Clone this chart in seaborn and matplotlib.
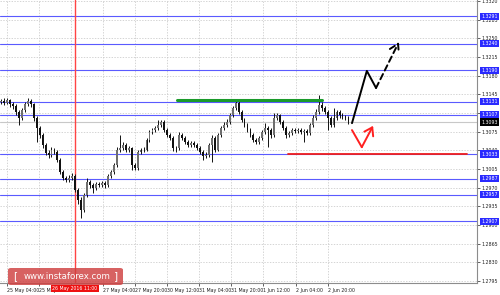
import numpy as np
import pandas as pd
import matplotlib
matplotlib.use("Agg")
import matplotlib.pyplot as plt
import matplotlib.transforms as mtransforms
from matplotlib.patches import FancyBboxPatch
import seaborn as sns

# ---------------- data ----------------
closes = [1.3133, 1.3129, 1.3134, 1.3127, 1.3123, 1.3112, 1.3101, 1.3116, 1.3127, 1.3133,
          1.3127, 1.3101, 1.3082, 1.3069, 1.3050, 1.3035, 1.3031, 1.3041, 1.3037, 1.3022,
          1.2999, 1.2988, 1.2984, 1.2988, 1.2992, 1.2966, 1.2947, 1.2928, 1.2956, 1.2981,
          1.2975, 1.2969, 1.2977, 1.2975, 1.2979, 1.2975, 1.2992, 1.2999, 1.3012, 1.3041,
          1.3044, 1.3050, 1.3041, 1.3044, 1.3012, 1.3007, 1.3037, 1.3041, 1.3041, 1.3059,
          1.3074, 1.3078, 1.3082, 1.3088, 1.3093, 1.3078, 1.3069, 1.3063, 1.3044, 1.3044,
          1.3069, 1.3063, 1.3056, 1.3050, 1.3054, 1.3050, 1.3044, 1.3037, 1.3029, 1.3031,
          1.3050, 1.3063, 1.3041, 1.3069, 1.3082, 1.3088, 1.3093, 1.3106, 1.3119, 1.3129,
          1.3112, 1.3097, 1.3088, 1.3078, 1.3069, 1.3059, 1.3056, 1.3063, 1.3074, 1.3082,
          1.3078, 1.3069, 1.3101, 1.3106, 1.3093, 1.3082, 1.3069, 1.3073, 1.3078, 1.3076,
          1.3078, 1.3074, 1.3076, 1.3073, 1.3088, 1.3101, 1.3112, 1.3125, 1.3119, 1.3112,
          1.3101, 1.3088, 1.3101, 1.3112, 1.3106, 1.3103, 1.3101, 1.3095]
highs = [1.3137, 1.3138, 1.3139, 1.3137, 1.3131, 1.3126, 1.3115, 1.3119, 1.3131, 1.3139,
         1.3137, 1.3129, 1.3104, 1.3086, 1.3072, 1.3053, 1.3040, 1.3046, 1.3045, 1.3040,
         1.3025, 1.3003, 1.2992, 1.2993, 1.2997, 1.2995, 1.2970, 1.2952, 1.2960, 1.2988,
         1.2985, 1.2979, 1.2981, 1.2981, 1.2983, 1.2983, 1.2996, 1.3003, 1.3016, 1.3046,
         1.3069, 1.3056, 1.3054, 1.3049, 1.3047, 1.3016, 1.3040, 1.3045, 1.3046, 1.3063,
         1.3078, 1.3082, 1.3086, 1.3097, 1.3097, 1.3096, 1.3082, 1.3073, 1.3066, 1.3049,
         1.3074, 1.3073, 1.3066, 1.3060, 1.3058, 1.3058, 1.3053, 1.3048, 1.3041, 1.3036,
         1.3054, 1.3068, 1.3066, 1.3073, 1.3086, 1.3093, 1.3098, 1.3110, 1.3124, 1.3133,
         1.3133, 1.3116, 1.3101, 1.3092, 1.3082, 1.3073, 1.3063, 1.3067, 1.3078, 1.3091,
         1.3086, 1.3082, 1.3110, 1.3110, 1.3109, 1.3097, 1.3085, 1.3077, 1.3082, 1.3081,
         1.3082, 1.3081, 1.3080, 1.3080, 1.3092, 1.3106, 1.3117, 1.3144, 1.3130, 1.3123,
         1.3116, 1.3104, 1.3119, 1.3116, 1.3116, 1.3110, 1.3107, 1.3104]
lows = [1.3127, 1.3125, 1.3126, 1.3122, 1.3118, 1.3107, 1.3088, 1.3097, 1.3112, 1.3123,
        1.3121, 1.3095, 1.3056, 1.3063, 1.3045, 1.3031, 1.3026, 1.3028, 1.3033, 1.3018,
        1.2995, 1.2984, 1.2980, 1.2980, 1.2985, 1.2962, 1.2940, 1.2913, 1.2924, 1.2952,
        1.2970, 1.2960, 1.2965, 1.2971, 1.2971, 1.2970, 1.2972, 1.2988, 1.2996, 1.3008,
        1.3037, 1.3040, 1.3037, 1.3036, 1.3003, 1.3003, 1.3004, 1.3033, 1.3036, 1.3038,
        1.3055, 1.3070, 1.3074, 1.3078, 1.3084, 1.3074, 1.3065, 1.3059, 1.3039, 1.3037,
        1.3041, 1.3059, 1.3052, 1.3046, 1.3046, 1.3046, 1.3040, 1.3033, 1.3022, 1.3025,
        1.3027, 1.3018, 1.3037, 1.3038, 1.3065, 1.3078, 1.3084, 1.3090, 1.3102, 1.3115,
        1.3108, 1.3093, 1.3084, 1.3074, 1.3065, 1.3055, 1.3052, 1.3052, 1.3059, 1.3070,
        1.3046, 1.3063, 1.3065, 1.3097, 1.3089, 1.3078, 1.3063, 1.3065, 1.3069, 1.3072,
        1.3072, 1.3070, 1.3056, 1.3068, 1.3069, 1.3084, 1.3097, 1.3108, 1.3114, 1.3108,
        1.3078, 1.3084, 1.3084, 1.3097, 1.3101, 1.3099, 1.3097, 1.3090]
first_open = 1.3131
opens = [first_open] + closes[:-1]

price_ticks = [1.3320, 1.3285, 1.3250, 1.3215, 1.3180, 1.3145, 1.3110, 1.3075,
               1.3040, 1.3005, 1.2970, 1.2935, 1.2900, 1.2865, 1.2830, 1.2795]
blue_levels = [1.3291, 1.3240, 1.3190, 1.3131, 1.3107, 1.3033, 1.2987, 1.2957, 1.2907]
current_price = 1.3093

time_tick_bars = [2.0, 12.8, 23.6, 34.4, 45.2, 56.0, 66.8, 77.6, 88.4, 99.2, 110.0]
# the third label (26 May 12:00) is covered by the crosshair time box in the reference
time_tick_labels = ["25 May 04:00", "25 May 20:00", "", "27 May 04:00",
                    "27 May 20:00", "30 May 12:00", "31 May 04:00", "31 May 20:00",
                    "1 Jun 12:00", "2 Jun 04:00", "2 Jun 20:00"]
crosshair_bar = 24.9
crosshair_label = "26 May 2016 11:00"

resistance_price = 1.3134
resistance_bars = [59.3, 108.1]
support_price = 1.3033
support_bars = [96.6, 157.0]

fc_black_solid_x = [118.2, 123.2, 126.3]
fc_black_solid_y = [1.3091, 1.3189, 1.3157]
fc_black_dash_x = [126.3, 134.0]
fc_black_dash_y = [1.3157, 1.3243]
fc_red_x = [118.2, 121.5, 125.3]
fc_red_y = [1.3078, 1.3046, 1.3086]

# ---------------- figure ----------------
sns.set_theme(style="white")
plt.rcParams['font.family'] = ['DejaVu Sans']

W, H = 500, 295
fig = plt.figure(figsize=(W / 100, H / 100), dpi=100)
fig.patch.set_facecolor('white')
ax_right_px, ax_bottom_px = 477, 283
ax = fig.add_axes([0, 1 - ax_bottom_px / H, ax_right_px / W, ax_bottom_px / H])
ax.set_facecolor('white')

ax.set_xlim(-0.337, 160.3)
ax.set_ylim(1.27913, 1.33219)

# grid
ax.set_yticks(price_ticks)
ax.set_xticks(time_tick_bars)
ax.grid(True, color='#c4c4c4', linestyle=(0, (2, 2)), linewidth=0.5)
ax.set_axisbelow(True)

# current price line
ax.axhline(current_price, color='#c8c8c8', lw=0.8, zorder=1)

# blue levels
for lv in blue_levels:
    ax.axhline(lv, color='#5a5aff', lw=0.8, zorder=2)

# crosshair vertical
ax.axvline(crosshair_bar, color='#ff4444', lw=1.0, zorder=2.5)

# candles
df = pd.DataFrame({'open': opens, 'high': highs, 'low': lows, 'close': closes})
df['bar'] = np.arange(len(df))
ax.vlines(df['bar'], df['low'], df['high'], color='#111111', lw=0.7, zorder=3)
body_bottom = df[['open', 'close']].min(axis=1)
body_h = (df['close'] - df['open']).abs().clip(lower=0.00006)
colors = np.where(df['close'] >= df['open'], '#6e6e6e', '#111111')
ax.bar(df['bar'], body_h, bottom=body_bottom, width=0.62, color=colors,
       linewidth=0, zorder=4)

# resistance (green) and support (red)
sns.lineplot(x=resistance_bars, y=[resistance_price] * 2, ax=ax, color='#1a9a2a',
             lw=2.2, zorder=5, legend=False)
sns.lineplot(x=support_bars, y=[support_price] * 2, ax=ax, color='#ee1c1c',
             lw=1.3, zorder=5, legend=False)

# forecasts
sns.lineplot(x=fc_black_solid_x, y=fc_black_solid_y, ax=ax, color='black', lw=1.4,
             zorder=6, sort=False, legend=False)
ax.annotate('', xy=(fc_black_dash_x[1], fc_black_dash_y[1]),
            xytext=(fc_black_dash_x[0], fc_black_dash_y[0]),
            arrowprops=dict(arrowstyle='->,head_length=0.5,head_width=0.3', color='black',
                            lw=1.4, linestyle=(0, (3, 2)), shrinkA=0, shrinkB=0), zorder=6)
sns.lineplot(x=fc_red_x[:2], y=fc_red_y[:2], ax=ax, color='#ff2020', lw=1.4,
             zorder=6, sort=False, legend=False)
ax.annotate('', xy=(fc_red_x[2], fc_red_y[2]), xytext=(fc_red_x[1], fc_red_y[1]),
            arrowprops=dict(arrowstyle='->,head_length=0.45,head_width=0.3', color='#ff2020',
                            lw=1.4, shrinkA=0, shrinkB=0), zorder=6)

# spines / ticks
for s in ['left', 'top']:
    ax.spines[s].set_visible(False)
for s in ['right', 'bottom']:
    ax.spines[s].set_visible(True)
    ax.spines[s].set_color('#8c8c8c')
    ax.spines[s].set_linewidth(0.8)
ax.yaxis.tick_right()
ax.set_yticklabels([f"{v:.4f}" for v in price_ticks])
ax.tick_params(axis='y', which='both', right=True, length=2, width=0.5, pad=1.5,
               labelsize=3.4, colors='#222222')
ax.set_xticklabels(time_tick_labels, ha='left')
ax.tick_params(axis='x', which='both', bottom=True, length=2, width=0.5, pad=1.5,
               labelsize=3.4, colors='#222222')
ax.set_xlabel('')
ax.set_ylabel('')

# price label boxes on the right axis
trans = mtransforms.blended_transform_factory(ax.transAxes, ax.transData)
for lv in blue_levels:
    ax.text(1.0 + 4 / ax_right_px, lv, f"{lv:.4f}", transform=trans, fontsize=3.4,
            color='white', va='center', ha='left', zorder=10, clip_on=False,
            bbox=dict(boxstyle='square,pad=0.25', fc='#2a2aff', ec='none'))
ax.text(1.0 + 4 / ax_right_px, current_price, f"{current_price:.4f}", transform=trans,
        fontsize=3.4, color='white', va='center', ha='left', zorder=10, clip_on=False,
        bbox=dict(boxstyle='square,pad=0.25', fc='black', ec='none'))

# crosshair time label
tx = mtransforms.blended_transform_factory(ax.transData, fig.transFigure)
ax.text(crosshair_bar, 1 - 288.5 / H, crosshair_label, transform=tx, fontsize=3.3,
        color='white', ha='center', va='center', zorder=10, clip_on=False,
        bbox=dict(boxstyle='square,pad=0.25', fc='#ee1111', ec='none'))

# watermark
box = FancyBboxPatch((8 / W, 1 - 285 / H), 115 / W, 17 / H,
                     boxstyle='round,pad=0,rounding_size=0.006',
                     transform=fig.transFigure, fc='#cf3f3f', ec='none', alpha=0.82,
                     zorder=20)
fig.patches.append(box)
fig.text(15 / W, 1 - 276.5 / H, '[', color='white', fontsize=7.5, ha='center',
         va='center', zorder=21)
fig.text(116 / W, 1 - 276.5 / H, ']', color='white', fontsize=7.5, ha='center',
         va='center', zorder=21)
fig.text(67 / W, 1 - 276.5 / H, 'www.instaforex.com', color='white', fontsize=6.2,
         ha='center', va='center', zorder=21)

fig.savefig('out.png', dpi=100, facecolor='white')
